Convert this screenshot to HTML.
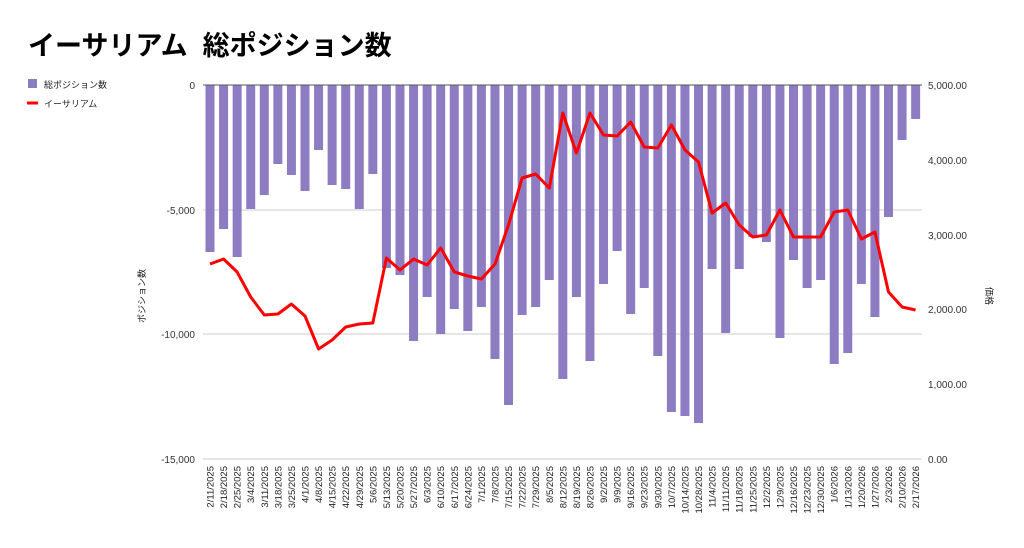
<!DOCTYPE html>
<html><head><meta charset="utf-8"><style>
body{margin:0;background:#fff;}
svg text{font-family:"Liberation Sans","Noto Sans CJK JP",sans-serif;}
</style></head><body>
<svg id="s" width="1024" height="543" xmlns="http://www.w3.org/2000/svg">
<rect width="1024" height="543" fill="#fff"/>
<text x="28" y="55" font-size="27" font-weight="bold" fill="#000">イーサリアム&#160;&#160;総ポジション数</text>
<rect x="28" y="79" width="9" height="9" fill="#8e7cc3"/>
<text x="44" y="88" font-size="9" fill="#222">総ポジション数</text>
<line x1="27" y1="103" x2="38" y2="103" stroke="#f00" stroke-width="3"/>
<text x="44" y="107" font-size="9" fill="#222">イーサリアム</text>
<line x1="203" y1="210" x2="922" y2="210" stroke="#ccc"/>
<line x1="203" y1="334" x2="922" y2="334" stroke="#ccc"/>
<line x1="203" y1="459" x2="922" y2="459" stroke="#ccc"/>
<g font-size="10" fill="#333" text-anchor="end">
<text x="195" y="89">0</text><text x="195" y="214">-5,000</text><text x="195" y="338">-10,000</text><text x="195" y="463">-15,000</text>
</g>
<g font-size="10" fill="#333">
<text x="928" y="89">5,000.00</text><text x="928" y="164">4,000.00</text><text x="928" y="239">3,000.00</text><text x="928" y="313">2,000.00</text><text x="928" y="388">1,000.00</text><text x="928" y="463">0.00</text>
</g>
<text transform="translate(145,296) rotate(-90)" font-size="9" text-anchor="middle" fill="#222">ポジション数</text>
<text transform="translate(986,296) rotate(90)" font-size="9" text-anchor="middle" fill="#222">価格</text>
<g id="bars" fill="#8e7cc3"></g>
<line x1="203" y1="85" x2="922" y2="85" stroke="#555"/>
<polyline id="ln" fill="none" stroke="#f00" stroke-width="3" stroke-linejoin="round"/>
<g id="lbl" font-size="9.5" fill="#222" text-anchor="end"></g>
</svg>
<script>
var b=[252,229,257,209,195,164,175,191,150,185,189,209,174,268,275,341,297,334,309,331,307,359,405,315,307,280,379,297,361,284,251,314,288,356,412,416,423,269,333,269,237,242,338,260,288,280,364,353,284,317,217,140,119];
var l=[264,259,272,297,315,314,304,316,349,340,327,324,323,258,270,259,265,248,272,276,279,264,225,178,174,188,113,153,113,135,136,122,147,148,125,150,162,213,203,225,237,235,210,237,237,237,212,210,239,232,292,307,310];
var d=["2/11/2025","2/18/2025","2/25/2025","3/4/2025","3/11/2025","3/18/2025","3/25/2025","4/1/2025","4/8/2025","4/15/2025","4/22/2025","4/29/2025","5/6/2025","5/13/2025","5/20/2025","5/27/2025","6/3/2025","6/10/2025","6/17/2025","6/24/2025","7/1/2025","7/8/2025","7/15/2025","7/22/2025","7/29/2025","8/5/2025","8/12/2025","8/19/2025","8/26/2025","9/2/2025","9/9/2025","9/16/2025","9/23/2025","9/30/2025","10/7/2025","10/14/2025","10/28/2025","11/4/2025","11/11/2025","11/18/2025","11/25/2025","12/2/2025","12/9/2025","12/16/2025","12/23/2025","12/30/2025","1/6/2026","1/13/2026","1/20/2026","1/27/2026","2/3/2026","2/10/2026","2/17/2026"];
var ns="http://www.w3.org/2000/svg",pts=[],g=document.getElementById("bars"),lg=document.getElementById("lbl");
for(var i=0;i<53;i++){var x=210+i*13.57;
var r=document.createElementNS(ns,"rect");r.setAttribute("x",x-4.5);r.setAttribute("y",85);r.setAttribute("width",9);r.setAttribute("height",b[i]-85);g.appendChild(r);
pts.push(x.toFixed(1)+","+l[i]);
var t=document.createElementNS(ns,"text");t.setAttribute("transform","translate("+(x+3.5)+",466) rotate(-90)");t.textContent=d[i];lg.appendChild(t);}
document.getElementById("ln").setAttribute("points",pts.join(" "));
</script>
</body></html>
